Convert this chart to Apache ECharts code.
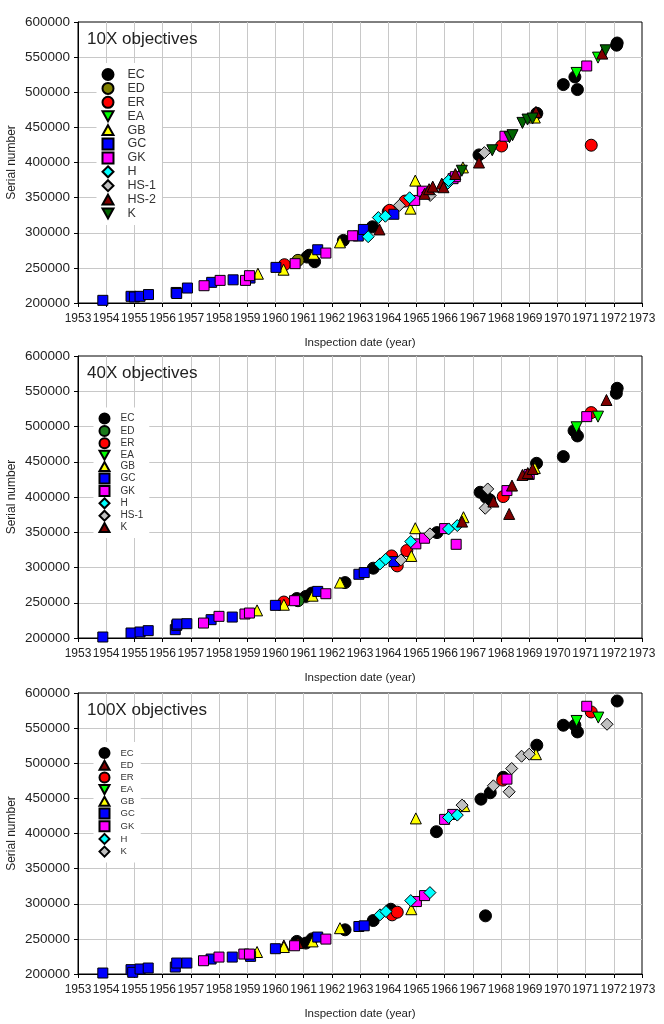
<!DOCTYPE html>
<html><head><meta charset="utf-8">
<script src="https://cdn.jsdelivr.net/npm/echarts@6/dist/echarts.min.js"></script>
<style>html,body{margin:0;padding:0;background:#fff}#c{width:664px;height:1024px}</style>
</head><body><div id="c"></div>
<script>
// ---------- tick labels / categories ----------
const xTicks = [1953,1954,1955,1956,1957,1958,1959,1960,1961,1962,1963,1964,1965,1966,1967,1968,1969,1970,1971,1972,1973];
const yTicks = [200000,250000,300000,350000,400000,450000,500000,550000,600000];
const panelTitles = ['10X objectives','40X objectives','100X objectives'];
const names10 = ['EC','ED','ER','EA','GB','GC','GK','H','HS-1','HS-2','K'];
const names40 = ['EC','ED','ER','EA','GB','GC','GK','H','HS-1','K'];
const names100 = ['EC','ED','ER','EA','GB','GC','GK','H','K'];

// ---------- 10X objectives: [inspection year, serial number] ----------
const p10_EC = [[1961.12,265400],[1961.2,268000],[1961.39,258800],[1962.41,289100],[1963.44,308500],[1964.0,330000],[1967.22,410800],[1969.27,470000],[1970.21,510900],[1970.62,521800],[1970.71,503800],[1972.1,567000],[1972.12,570100]];
const p10_ED = [[1960.8,260700]];
const p10_ER = [[1960.32,254500],[1964.05,331900],[1964.6,345100],[1968.02,423500],[1971.2,424600]];
const p10_EA = [[1970.68,527500],[1971.44,549300]];
const p10_GB = [[1959.38,241700],[1960.29,247400],[1961.35,270000],[1962.29,286300],[1964.79,334300],[1964.96,374200],[1966.65,393000],[1969.2,464000]];
const p10_GC = [[1953.88,203800],[1954.88,209500],[1955.0,208500],[1955.2,209500],[1955.5,212000],[1956.48,215000],[1956.5,213500],[1956.88,221300],[1957.74,229400],[1958.5,233000],[1959.1,235500],[1960.02,250700],[1961.5,275800],[1962.94,295300],[1963.12,304700],[1964.2,326300]];
const p10_GK = [[1957.47,224600],[1958.04,232200],[1958.94,232200],[1959.08,238900],[1960.7,256000],[1961.79,271100],[1962.74,295700],[1964.94,346000],[1965.22,359200],[1966.3,377000],[1966.38,379800],[1968.14,437400],[1971.04,537400]];
const p10_H = [[1963.29,294400],[1963.65,321600],[1963.9,323500],[1964.76,349800],[1965.4,357000],[1966.1,370000],[1966.14,374200]];
const p10_HS1 = [[1964.4,339000],[1965.49,353100],[1967.41,414100]];
const p10_HS2 = [[1963.69,304700],[1965.29,355400],[1965.45,362000],[1965.58,365700],[1965.9,370000],[1965.96,364800],[1966.38,383600],[1967.22,400000],[1969.24,472000],[1971.59,555000]];
const p10_K = [[1966.61,388300],[1967.69,417400],[1968.3,436000],[1968.41,438900],[1968.76,456400],[1968.94,461100],[1969.12,462600],[1971.71,559700]];

// ---------- 40X objectives ----------
const p40_EC = [[1960.76,256000],[1961.08,259000],[1961.29,263700],[1962.47,278600],[1963.47,299000],[1965.73,349500],[1967.26,406700],[1967.47,399600],[1967.6,396000],[1969.26,447800],[1970.21,457300],[1970.59,494100],[1970.71,486600],[1972.09,547100],[1972.12,554200]];
const p40_ED = [[1960.8,252900]];
const p40_ER = [[1960.3,251000],[1964.12,316400],[1964.32,302300],[1964.66,324000],[1968.08,400600],[1971.2,519700]];
const p40_EA = [[1970.68,498900],[1971.44,514000]];
const p40_GB = [[1959.35,239200],[1960.3,247200],[1961.32,260000],[1962.29,278600],[1964.82,316400],[1964.96,355700],[1966.67,371300],[1969.2,441000]];
const p40_GC = [[1953.88,201400],[1954.88,207100],[1955.2,208500],[1955.49,210400],[1956.45,211800],[1956.5,217900],[1956.52,219800],[1956.86,220300],[1957.72,226000],[1958.47,229700],[1960,246300],[1961.5,266100],[1962.96,290400],[1963.15,292800],[1964.21,308400]];
const p40_GK = [[1957.45,221200],[1958,230700],[1958.92,234000],[1959.08,235400],[1960.68,252900],[1961.79,262800],[1964.98,333500],[1965.29,341500],[1966,355200],[1966.41,332900],[1968.21,409100],[1969.0,432000],[1971.04,514000]];
const p40_H = [[1963.71,305100],[1963.91,311700],[1964.8,336800],[1966.14,354700],[1966.45,359500]];
const p40_HS1 = [[1964.45,310800],[1965.48,347700],[1967.44,384000],[1967.53,411400]];
const p40_K = [[1966.62,365100],[1967.73,393500],[1968.29,376000],[1968.39,416200],[1968.76,431300],[1968.95,434000],[1969.12,439700],[1971.74,537600]];

// ---------- 100X objectives ----------
const p100_EC = [[1960.76,246400],[1961.08,244000],[1961.3,250000],[1962.47,262900],[1963.47,276100],[1964.09,292200],[1965.71,402600],[1967.29,448900],[1967.45,282800],[1967.62,458000],[1968.08,480000],[1969.27,525700],[1970.21,554100],[1970.62,554100],[1970.71,544600],[1972.12,588600]];
const p100_ED = [[1960.3,240700],[1960.8,244000]];
const p100_ER = [[1964.14,284200],[1964.32,288000],[1968.06,476000],[1971.2,573000]];
const p100_EA = [[1970.68,560200],[1971.45,565000]];
const p100_GB = [[1959.35,231300],[1960.3,238400],[1961.32,246400],[1962.29,265200],[1964.82,292200],[1964.98,421500],[1966.7,439000],[1969.24,512900]];
const p100_GC = [[1953.88,201400],[1954.88,206200],[1954.94,202400],[1955.2,207100],[1955.49,208500],[1956.45,209900],[1956.5,215600],[1956.86,215600],[1957.72,221300],[1958.47,224100],[1959.12,225100],[1960,236000],[1961.5,252600],[1962.96,267600],[1963.15,268600]];
const p100_GK = [[1957.45,218900],[1958,224100],[1958.88,228400],[1959.08,228400],[1960.68,240200],[1961.79,249700],[1965,303100],[1965.29,311600],[1966,420100],[1966.29,427200],[1968.21,477400],[1971.04,581100]];
const p100_H = [[1963.71,284200],[1963.92,288900],[1964.8,304500],[1965.48,315900],[1966.14,422900],[1966.45,426200]];
const p100_K = [[1966.62,440400],[1967.73,467900],[1968.29,459400],[1968.38,492500],[1968.73,510000],[1969.0,512900],[1971.76,555500]];

// ---------- styles (not data) ----------
const DOWN = 'path://M0,0 L10,0 L5,9 Z';
const UP = 'path://M5,0 L10,9 L0,9 Z';
const ST = {
  EC:   {c:'#000000', s:'circle'},
  ED1:  {c:'#808000', s:'circle'},
  ED2:  {c:'#1a7a1a', s:'circle'},
  ED3:  {c:'#800000', s:UP},
  ER:   {c:'#ff0000', s:'circle'},
  EA:   {c:'#00ff00', s:DOWN},
  GB:   {c:'#ffff00', s:UP},
  GC:   {c:'#0000ff', s:'rect'},
  GK:   {c:'#ff00ff', s:'rect'},
  H:    {c:'#00ffff', s:'diamond'},
  HS1:  {c:'#c0c0c0', s:'diamond'},
  HS2:  {c:'#800000', s:UP},
  K1:   {c:'#006400', s:DOWN},
  K2:   {c:'#800000', s:UP},
  K3:   {c:'#c0c0c0', s:'diamond'}
};

const panels = [
  {names:names10, data:[p10_EC,p10_ED,p10_ER,p10_EA,p10_GB,p10_GC,p10_GK,p10_H,p10_HS1,p10_HS2,p10_K],
   st:['EC','ED1','ER','EA','GB','GC','GK','H','HS1','HS2','K1']},
  {names:names40, data:[p40_EC,p40_ED,p40_ER,p40_EA,p40_GB,p40_GC,p40_GK,p40_H,p40_HS1,p40_K],
   st:['EC','ED2','ER','EA','GB','GC','GK','H','HS1','K2']},
  {names:names100, data:[p100_EC,p100_ED,p100_ER,p100_EA,p100_GB,p100_GC,p100_GK,p100_H,p100_K],
   st:['EC','ED3','ER','EA','GB','GC','GK','H','K3']}
];

const FONT = 'Liberation Sans, Arial, sans-serif';
const gridTops = [22, 356, 693];
const gridH = [281, 282, 281];
const titleTops = [31, 365, 702];
const legendCfg = [
  {left:96.5, top:63, iw:11, ih:11, gap:0.9, fs:12.5, pad:9},
  {left:93.5, top:407.5, iw:10, ih:10, gap:0.4, fs:10, pad:6},
  {left:93.5, top:742, iw:10, ih:10, gap:0.7, fs:9.5, pad:6}
];

const option = {
  animation:false,
  backgroundColor:'#fff',
  title:[], grid:[], xAxis:[], yAxis:[], legend:[], series:[]
};

panels.forEach((p, i) => {
  option.grid.push({left:78, top:gridTops[i], width:564, height:gridH[i], show:true,
    borderColor:'#000', borderWidth:1, backgroundColor:'transparent', containLabel:false,
    outerBoundsMode:'none'});
  option.title.push({text:panelTitles[i], left:87, top:titleTops[i], padding:0,
    textStyle:{fontFamily:FONT, fontSize:17, fontWeight:'normal', color:'#222'}});
  option.xAxis.push({type:'value', gridIndex:i, min:xTicks[0], max:xTicks[xTicks.length-1], interval:1,
    name:'Inspection date (year)', nameLocation:'middle', nameGap:34, nameMoveOverlap:false,
    nameTextStyle:{fontFamily:FONT, fontSize:11.5, color:'#222'},
    axisLine:{show:true, onZero:false, lineStyle:{color:'#000', width:1}},
    axisTick:{show:true, length:4, lineStyle:{color:'#000'}},
    axisLabel:{fontFamily:FONT, fontSize:12, color:'#222', margin:10, formatter:v=>String(v)},
    splitLine:{show:true, showMinLine:false, showMaxLine:false, lineStyle:{color:'#c8c8c8', width:1}}});
  option.yAxis.push({type:'value', gridIndex:i, min:yTicks[0], max:yTicks[yTicks.length-1], interval:50000,
    name:'Serial number', nameLocation:'middle', nameGap:60, nameMoveOverlap:false,
    nameTextStyle:{fontFamily:FONT, fontSize:12, color:'#222'},
    axisLine:{show:true, onZero:false, lineStyle:{color:'#000', width:1}},
    axisTick:{show:true, length:4, lineStyle:{color:'#000'}},
    axisLabel:{fontFamily:FONT, fontSize:13.5, color:'#222', margin:8, formatter:v=>String(v)},
    splitLine:{show:true, showMinLine:false, showMaxLine:false, lineStyle:{color:'#c8c8c8', width:1}}});
  const L = legendCfg[i];
  option.legend.push({orient:'vertical', left:L.left, top:L.top, itemWidth:L.iw, itemHeight:L.ih, itemGap:L.gap,
    backgroundColor:'#fff', padding:[5,6,5,5], selectedMode:false, z:5,
    data:p.names.map(n => n+'|'+i),
    formatter: name => name.split('|')[0],
    textStyle:{fontFamily:FONT, fontSize:L.fs, color:'#333', lineHeight:L.ih, padding:[0,0,0,L.pad]}});
  p.names.forEach((n, k) => {
    const s = ST[p.st[k]];
    const size = s.s === 'rect' ? 10 : (s.s === 'circle' ? 12 : (s.s === 'diamond' ? 12 : 11));
    option.series.push({type:'scatter', name:n+'|'+i, xAxisIndex:i, yAxisIndex:i,
      symbol:s.s, symbolSize:size, z:2,
      itemStyle:{color:s.c, borderColor:'#000', borderWidth:1, opacity:1},
      emphasis:{disabled:true},
      data:p.data[k]});
  });
});

const chart = echarts.init(document.getElementById('c'), null, {renderer:'canvas'});
chart.setOption(option);
</script></body></html>
